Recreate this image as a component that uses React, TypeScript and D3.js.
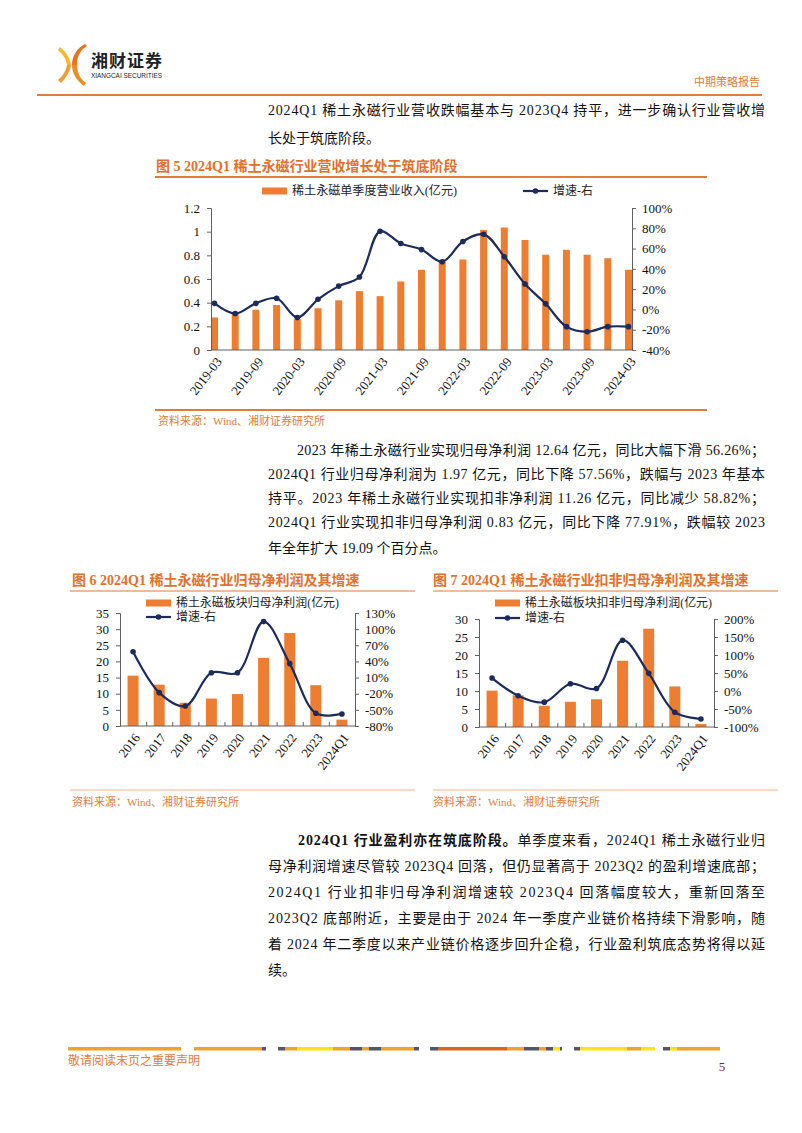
import React, { useEffect, useRef } from 'react';
import * as d3 from 'd3';

// quarterly revenue (亿元) and yoy growth (%)
const quarters = [
  '2019-03', '2019-06', '2019-09', '2019-12', '2020-03', '2020-06', '2020-09', '2020-12',
  '2021-03', '2021-06', '2021-09', '2021-12', '2022-03', '2022-06', '2022-09', '2022-12',
  '2023-03', '2023-06', '2023-09', '2023-12', '2024-03',
];
const quarterRevenue = [
  0.275, 0.31, 0.34, 0.38, 0.26, 0.353, 0.42, 0.497, 0.455, 0.579, 0.678, 0.745, 0.765,
  1.015, 1.035, 0.93, 0.805, 0.847, 0.805, 0.776, 0.678,
];
const quarterGrowth = [6, -4, 6, 11, -8, 10, 23, 32, 77, 65, 59, 47, 67, 74, 52, 25, 5.5, -17, -22, -17, -17];
const quarterTicks = quarters.filter((_, i) => i % 2 === 0);

// yearly profit (亿元) and growth (%)
const years = ['2016', '2017', '2018', '2019', '2020', '2021', '2022', '2023', '2024Q1'];
const netProfit = [15.6, 12.8, 7.2, 8.5, 9.9, 21.1, 28.8, 12.64, 1.97];
const netProfitGrowth = [58, -18, -43, 19, 19, 114, 36, -56.26, -57.56];
const deductedProfit = [10.1, 8.8, 5.9, 7.0, 7.7, 18.4, 27.3, 11.26, 0.83];
const deductedGrowth = [36, -13, -31, 20, 7, 141, 49, -58.82, -77.91];

const ORANGE = '#ED7D31';
const NAVY = '#1C2B5E';
const BROWN = '#E07B39';
const SERIF = '"Liberation Serif", "Times New Roman", "Noto Sans CJK SC", serif';
const CJK = '"Liberation Serif", "Noto Sans CJK SC", sans-serif';

type ComboOpts = {
  left: number; right: number; top: number; bottom: number;
  cats: string[]; bars: number[]; growth: number[];
  yMax: number; yStep: number; gMin: number; gMax: number; gStep: number;
  point: boolean; barW: number; tickLabels: string[];
  leftFmt: (d: number) => string;
  barLabel: string; barLabelW: number;
  legend: { x: number; y: number; lineX: number; lineY: number };
};

function drawCombo(svg: any, o: ComboOpts) {
  const g = svg.append('g');
  let cx: (c: string) => number;
  let xs: any;
  if (o.point) {
    xs = d3.scalePoint().domain(o.cats).range([o.left + o.barW / 2, o.right - o.barW / 2]);
    cx = (c) => xs(c);
  } else {
    xs = d3.scaleBand().domain(o.cats).range([o.left, o.right]);
    cx = (c) => xs(c) + xs.bandwidth() / 2;
  }
  const y = d3.scaleLinear().domain([0, o.yMax]).range([o.bottom, o.top]);
  const y2 = d3.scaleLinear().domain([o.gMin, o.gMax]).range([o.bottom, o.top]);

  // bars
  g.selectAll('rect.bar')
    .data(o.bars)
    .join('rect')
    .attr('x', (d: number, i: number) => cx(o.cats[i]) - o.barW / 2)
    .attr('y', (d: number) => y(d))
    .attr('width', o.barW)
    .attr('height', (d: number) => o.bottom - y(d))
    .attr('fill', ORANGE);

  // axes
  const leftAxis = g.append('g')
    .attr('transform', `translate(${o.left},0)`)
    .call(d3.axisLeft(y).tickValues(d3.range(0, o.yMax + o.yStep / 2, o.yStep)).tickSize(4).tickPadding(7)
      .tickFormat((d) => o.leftFmt(+d)));
  const rightAxis = g.append('g')
    .attr('transform', `translate(${o.right},0)`)
    .call(d3.axisRight(y2).tickValues(d3.range(o.gMin, o.gMax + o.gStep / 2, o.gStep)).tickSize(4).tickPadding(6)
      .tickFormat((d) => `${d}%`));
  const bottomAxis = g.append('g')
    .attr('transform', `translate(0,${o.bottom})`)
    .call(d3.axisBottom(xs).tickValues(o.tickLabels).tickSize(0).tickSizeOuter(0));
  bottomAxis.select('.domain').attr('d', `M${o.left},0H${o.right}`);
  bottomAxis.selectAll('text')
    .attr('x', 0).attr('y', 0).attr('dy', '0.35em')
    .attr('transform', 'translate(4,9) rotate(-52)')
    .style('text-anchor', 'end');

  if (!o.point) {
    const edges = d3.scaleLinear().domain([0, o.cats.length]).range([o.left, o.right]);
    g.append('g')
      .attr('transform', `translate(0,${o.bottom})`)
      .call(d3.axisBottom(edges).tickValues(d3.range(0, o.cats.length + 1)).tickSizeInner(-4).tickSizeOuter(0)
        .tickFormat(() => ''))
      .select('.domain').remove();
  }

  for (const ax of [leftAxis, rightAxis, bottomAxis]) {
    ax.selectAll('text').style('font-family', SERIF).style('font-size', '13px').attr('fill', '#111');
  }
  g.selectAll('.domain, .tick line').attr('stroke', '#606060');

  // growth line
  const line = d3.line<number>()
    .x((d, i) => cx(o.cats[i]))
    .y((d) => y2(d))
    .curve(d3.curveCatmullRom.alpha(0.5));
  g.append('path')
    .datum(o.growth)
    .attr('fill', 'none')
    .attr('stroke', NAVY)
    .attr('stroke-width', 2.2)
    .attr('d', line);
  g.selectAll('circle.pt')
    .data(o.growth)
    .join('circle')
    .attr('cx', (d: number, i: number) => cx(o.cats[i]))
    .attr('cy', (d: number) => y2(d))
    .attr('r', 2.8)
    .attr('fill', NAVY);

  // legend
  const lg = g.append('g').style('font-family', CJK).style('font-size', '12px');
  lg.append('rect').attr('x', o.legend.x).attr('y', o.legend.y - 3.5).attr('width', 25).attr('height', 7).attr('fill', ORANGE);
  lg.append('text').attr('x', o.legend.x + 30).attr('y', o.legend.y).attr('dy', '0.35em').attr('fill', '#222')
    .attr('textLength', o.barLabelW).attr('lengthAdjust', 'spacingAndGlyphs').text(o.barLabel);
  lg.append('line').attr('x1', o.legend.lineX).attr('x2', o.legend.lineX + 25)
    .attr('y1', o.legend.lineY).attr('y2', o.legend.lineY).attr('stroke', NAVY).attr('stroke-width', 2.2);
  lg.append('circle').attr('cx', o.legend.lineX + 12.5).attr('cy', o.legend.lineY).attr('r', 2.8).attr('fill', NAVY);
  lg.append('text').attr('x', o.legend.lineX + 30).attr('y', o.legend.lineY).attr('dy', '0.35em').attr('fill', '#222')
    .text('增速-右');
}

const stripe: [number, number, string][] = [
  [68, 181, '#F3A12A'], [194, 262, '#F3A12A'], [262, 266, '#555566'],
  [278, 285, '#555566'], [285, 297, '#F3A12A'], [297, 333, '#FFE11A'], [333, 350, '#F3A12A'], [350, 362, '#555566'],
  [362, 369, '#F3A12A'], [369, 381, '#555566'], [381, 414, '#F3A12A'], [414, 419, '#555566'],
  [430, 438, '#555566'], [438, 507, '#D9661A'], [507, 524, '#F3A12A'], [524, 539, '#555566'], [539, 546, '#F3A12A'],
  [546, 553, '#555566'], [553, 560, '#FFE11A'], [560, 562, '#555566'],
  [574, 580, '#555566'], [580, 627, '#FFE11A'], [627, 641, '#F3A12A'], [641, 655, '#FFE11A'],
  [663, 670, '#555566'], [670, 677, '#FFE11A'], [677, 720, '#F3A12A'],
];

const Para = ({ x, y, w, children }: any) => (
  <text x={x} y={y} textLength={w} lengthAdjust={w ? 'spacing' : undefined}>
    {children}
  </text>
);

export default function App() {
  const ref = useRef<SVGSVGElement>(null);

  useEffect(() => {
    const svg = d3.select(ref.current!);
    svg.selectAll('g.charts').remove();
    const root = svg.append('g').attr('class', 'charts');

    drawCombo(root, {
      left: 211, right: 632, top: 208, bottom: 350,
      cats: quarters, bars: quarterRevenue, growth: quarterGrowth,
      yMax: 1.2, yStep: 0.2, gMin: -40, gMax: 100, gStep: 20,
      point: true, barW: 7, tickLabels: quarterTicks,
      leftFmt: (d) => String(+d.toFixed(1)),
      barLabel: '稀土永磁单季度营业收入(亿元)', barLabelW: 165,
      legend: { x: 262, y: 191, lineX: 523, lineY: 191 },
    });
    drawCombo(root, {
      left: 120, right: 355, top: 613, bottom: 726,
      cats: years, bars: netProfit, growth: netProfitGrowth,
      yMax: 35, yStep: 5, gMin: -80, gMax: 130, gStep: 30,
      point: false, barW: 11, tickLabels: years,
      leftFmt: (d) => String(d),
      barLabel: '稀土永磁板块归母净利润(亿元)', barLabelW: 163,
      legend: { x: 146, y: 603, lineX: 146, lineY: 617 },
    });
    drawCombo(root, {
      left: 479, right: 714, top: 619, bottom: 727,
      cats: years, bars: deductedProfit, growth: deductedGrowth,
      yMax: 30, yStep: 5, gMin: -100, gMax: 200, gStep: 50,
      point: false, barW: 11, tickLabels: years,
      leftFmt: (d) => String(d),
      barLabel: '稀土永磁板块扣非归母净利润(亿元)', barLabelW: 187,
      legend: { x: 495, y: 603, lineX: 495, lineY: 618 },
    });
  }, []);

  return (
    <svg ref={ref} width={802} height={1133} style={{ position: 'absolute', left: 0, top: 0, background: '#fff' }}>
      <rect width={802} height={1133} fill="#fff" />
      {/* header */}
      <g>
        <path d="M85,44 C77,48 72,56 72,65 L77,65 C77,57 80,50 87,46 Z" fill="#E8731A" />
        <path d="M72,65 C72,73 76,80 84,86 L86,83 C80,79 77,72 77,65 Z" fill="#F08A24" />
        <path d="M58,50 C63,54 66,59 67,65 L71,65 C70,58 66,52 60,47 Z" fill="#F7B733" />
        <path d="M67,65 C66,71 63,76 58,80 L61,83 C66,78 70,71 71,65 Z" fill="#F29B30" />
        <text x={91} y={67} fontFamily='"Noto Sans CJK SC", sans-serif' fontWeight="bold" fontSize={17} fill="#222" textLength={71}>湘财证券</text>
        <text x={91} y={77.5} fontFamily='"Liberation Sans", sans-serif' fontSize={7.5} fill="#222" textLength={71} lengthAdjust="spacingAndGlyphs">XIANGCAI SECURITIES</text>
        <text x={760} y={86} textAnchor="end" fontFamily={CJK} fontSize={11} fill={BROWN}>中期策略报告</text>
        <line x1={37} x2={762} y1={95} y2={95} stroke={BROWN} strokeWidth={2} />
      </g>

      {/* body text */}
      <g fontFamily={CJK} fontSize={14} fill="#111">
        <Para x={268} y={115} w={497}>2024Q1 稀土永磁行业营收跌幅基本与 2023Q4 持平，进一步确认行业营收增</Para>
        <Para x={268} y={143}>长处于筑底阶段。</Para>

        <Para x={297} y={455} w={468}>2023 年稀土永磁行业实现归母净利润 12.64 亿元，同比大幅下滑 56.26%；</Para>
        <Para x={268} y={479} w={497}>2024Q1 行业归母净利润为 1.97 亿元，同比下降 57.56%，跌幅与 2023 年基本</Para>
        <Para x={268} y={503} w={497}>持平。2023 年稀土永磁行业实现扣非净利润 11.26 亿元，同比减少 58.82%；</Para>
        <Para x={268} y={527} w={497}>2024Q1 行业实现扣非归母净利润 0.83 亿元，同比下降 77.91%，跌幅较 2023</Para>
        <Para x={268} y={553}>年全年扩大 19.09 个百分点。</Para>

        <text x={298} y={845} textLength={467} lengthAdjust="spacing">
          <tspan fontWeight="bold">2024Q1 行业盈利亦在筑底阶段。</tspan>
          <tspan>单季度来看，2024Q1 稀土永磁行业归</tspan>
        </text>
        <Para x={268} y={871} w={497}>母净利润增速尽管较 2023Q4 回落，但仍显著高于 2023Q2 的盈利增速底部；</Para>
        <Para x={268} y={897} w={497}>2024Q1 行业扣非归母净利润增速较 2023Q4 回落幅度较大，重新回落至</Para>
        <Para x={268} y={923} w={497}>2023Q2 底部附近，主要是由于 2024 年一季度产业链价格持续下滑影响，随</Para>
        <Para x={268} y={949} w={497}>着 2024 年二季度以来产业链价格逐步回升企稳，行业盈利筑底态势将得以延</Para>
        <Para x={268} y={975}>续。</Para>
      </g>

      {/* chart titles and rules */}
      <g fontFamily={CJK} fontWeight="bold" fontSize={14} fill="#E2702A">
        <text x={156} y={171}>图 5 2024Q1 稀土永磁行业营收增长处于筑底阶段</text>
        <text x={72} y={585}>图 6 2024Q1 稀土永磁行业归母净利润及其增速</text>
        <text x={433} y={585}>图 7 2024Q1 稀土永磁行业扣非归母净利润及其增速</text>
      </g>
      <line x1={155} x2={707} y1={177} y2={177} stroke={BROWN} strokeWidth={2} />
      <line x1={70} x2={415} y1={591} y2={591} stroke={BROWN} strokeWidth={1.2} />
      <line x1={433} x2={778} y1={591} y2={591} stroke={BROWN} strokeWidth={1.2} />
      <line x1={155} x2={707} y1={410} y2={410} stroke={BROWN} strokeWidth={2} />
      <line x1={70} x2={415} y1={790} y2={790} stroke="#F2B58A" strokeWidth={1} />
      <line x1={433} x2={778} y1={790} y2={790} stroke="#F2B58A" strokeWidth={1} />
      <g fontFamily={CJK} fontSize={11} fill={BROWN}>
        <text x={158} y={425}>资料来源：Wind、湘财证券研究所</text>
        <text x={72} y={806}>资料来源：Wind、湘财证券研究所</text>
        <text x={433} y={806}>资料来源：Wind、湘财证券研究所</text>
      </g>

      {/* footer */}
      <g>
        {stripe.map(([a, b, c], i) => (
          <rect key={i} x={a} y={1047} width={b - a} height={3.5} fill={c} />
        ))}
        <text x={68} y={1065} fontFamily={CJK} fontSize={12} fill={BROWN}>敬请阅读末页之重要声明</text>
        <text x={722} y={1071} textAnchor="middle" fontFamily={SERIF} fontSize={13} fill="#8B1A3A">5</text>
      </g>
    </svg>
  );
}
